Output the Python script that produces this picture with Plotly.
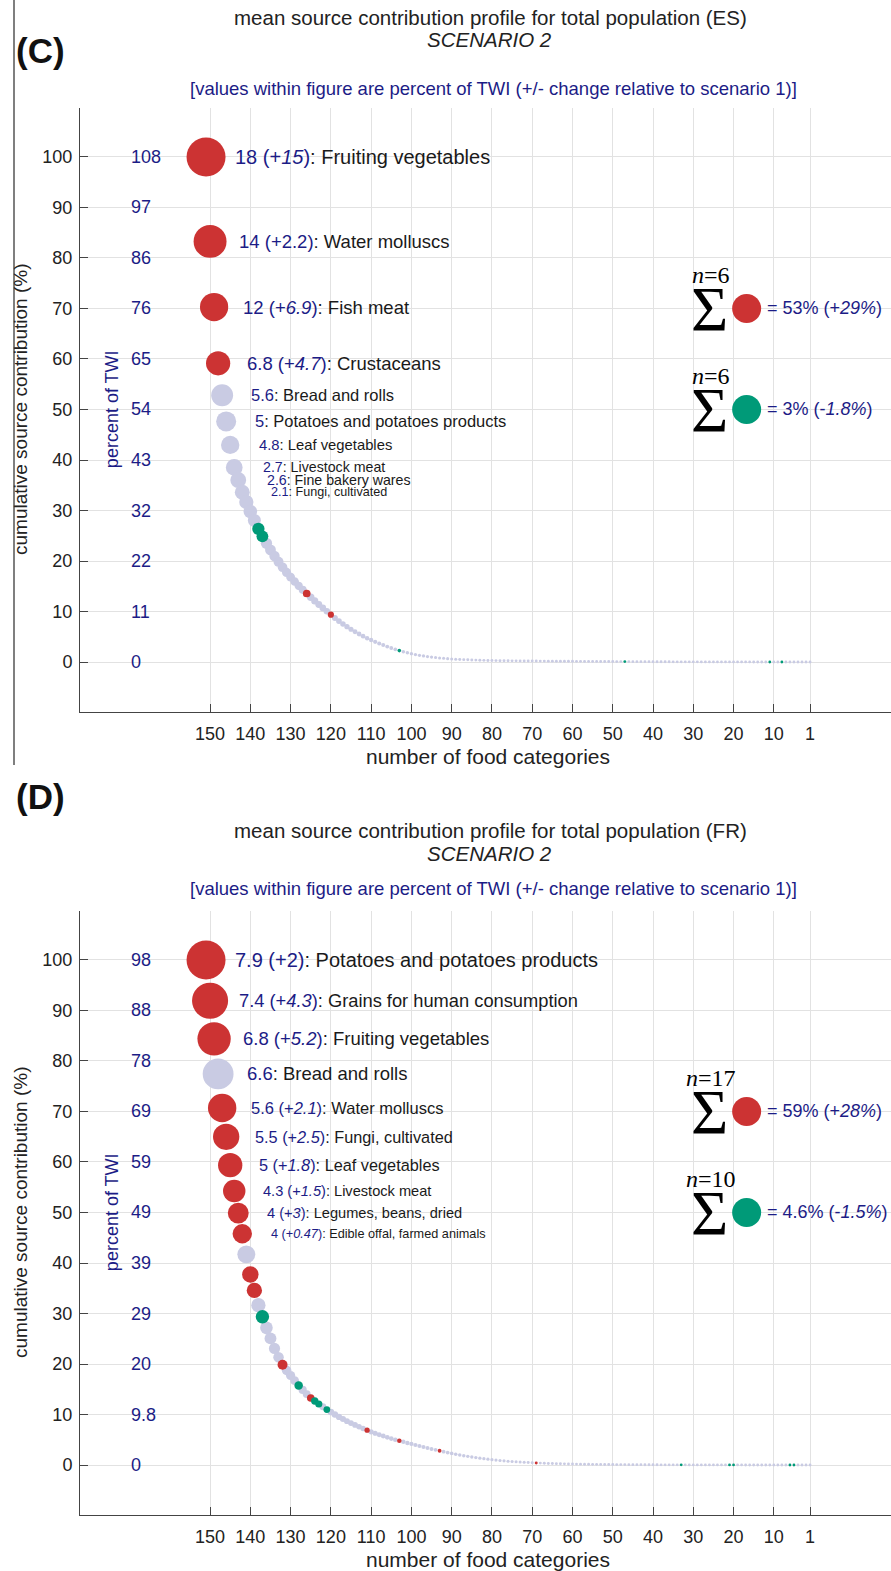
import plotly.graph_objects as go

W, H = 891, 1571

# ---------------- Panel (C): ES ----------------
es_contrib = [
    18, 14, 12, 6.8, 5.6, 5, 4.8, 2.7, 2.6, 2.1,
    2.0, 1.9, 1.8,
    1.6, 1.5, 1.4, 1.3, 1.25, 1.15, 1.1, 1.0, 0.95, 0.9, 0.85, 0.8,
    0.8, 0.78, 0.76, 0.74, 0.72, 0.71,
    0.70, 0.66, 0.62, 0.58, 0.55, 0.52, 0.49, 0.46, 0.43, 0.40, 0.38, 0.36, 0.34, 0.32, 0.30, 0.28, 0.27,
    0.25, 0.22, 0.20, 0.18, 0.16, 0.14, 0.12, 0.11, 0.10, 0.09, 0.08, 0.07, 0.06, 0.055, 0.05,
    0.045, 0.04, 0.035, 0.03, 0.027, 0.024, 0.021, 0.018, 0.016, 0.014, 0.012, 0.01, 0.009, 0.008,
    0.008, 0.0078, 0.0076, 0.0074, 0.0072, 0.007, 0.0068, 0.0066, 0.0064, 0.0062,
    0.006, 0.0058, 0.0056, 0.0055, 0.0054, 0.0053, 0.0052, 0.0051, 0.005, 0.0049,
    0.0048, 0.0047, 0.0046, 0.0045, 0.0044, 0.0043, 0.0042, 0.0041, 0.004, 0.0039,
    0.0038, 0.0037, 0.0036, 0.0035, 0.0034, 0.0033, 0.0032, 0.0031, 0.003, 0.0029,
    0.0028, 0.0027, 0.0026, 0.0025, 0.0024, 0.0023, 0.0022, 0.0021, 0.002, 0.0019,
    0.0018, 0.0017, 0.0016, 0.0015, 0.0014, 0.0013, 0.0012, 0.0011, 0.001, 0.0009,
    0.0008, 0.0007, 0.0006, 0.0005, 0.0004, 0.0003, 0.0002, 0.0002, 0.0001, 0.0001,
    0.0001, 0.0001, 0.0001, 0.0001,
]
es_red_ranks = [1, 2, 3, 4, 26, 32]
es_green_ranks = [14, 15, 49, 105, 141, 144]
es_label_values = ["18", "14", "12", "6.8", "5.6", "5", "4.8", "2.7", "2.6", "2.1"]
es_label_changes = ["+15", "+2.2", "+6.9", "+4.7", None, None, None, None, None, None]
es_label_names = ["Fruiting vegetables", "Water molluscs", "Fish meat", "Crustaceans",
                  "Bread and rolls", "Potatoes and potatoes products", "Leaf vegetables",
                  "Livestock meat", "Fine bakery wares", "Fungi, cultivated"]
es_twi_ticks = ["108", "97", "86", "76", "65", "54", "43", "32", "22", "11", "0"]
es_sum_red = ["6", "53%", "+29%"]
es_sum_green = ["6", "3%", "-1.8%"]

# ---------------- Panel (D): FR ----------------
fr_contrib = [
    7.9, 7.4, 6.8, 6.6, 5.6, 5.5, 5.0, 4.3, 4.0, 4.0,
    3.9, 3.1, 2.85, 2.25, 2.15, 2.05, 1.95, 1.7, 1.45,
    1.1, 1.0, 1.0, 0.95,
    0.85, 0.8, 0.75,
    0.6, 0.58, 0.55, 0.52,
    0.5, 0.48, 0.45, 0.42, 0.4, 0.38, 0.36, 0.35, 0.34, 0.33,
    0.31, 0.29, 0.27, 0.26, 0.25, 0.24, 0.22, 0.21,
    0.21, 0.21, 0.2, 0.2, 0.19, 0.19, 0.19, 0.19, 0.18, 0.18,
    0.18, 0.17, 0.16, 0.15, 0.15, 0.14, 0.13, 0.12, 0.12, 0.11, 0.10, 0.10,
    0.09, 0.08, 0.08, 0.07, 0.07, 0.06, 0.06, 0.05, 0.05, 0.04, 0.04, 0.04,
    0.035, 0.03, 0.028, 0.025, 0.022, 0.02, 0.018, 0.016, 0.015, 0.014,
    0.013, 0.012, 0.011, 0.01, 0.009, 0.008, 0.008, 0.007, 0.007, 0.006,
    0.006, 0.005, 0.005, 0.005, 0.004, 0.004, 0.004, 0.003, 0.003, 0.003,
    0.003, 0.0028, 0.0026, 0.0025, 0.0024, 0.0023, 0.0022, 0.0021, 0.002, 0.0019,
    0.0018, 0.0017, 0.0016, 0.0015, 0.0014, 0.0013, 0.0012, 0.0011, 0.001, 0.0009,
    0.0008, 0.0007, 0.0007, 0.0006, 0.0006, 0.0005, 0.0005, 0.0004, 0.0004, 0.0003,
    0.0003, 0.0002, 0.0002, 0.0002, 0.0001, 0.0001, 0.0001, 0.0001, 0.0001,
]
fr_red_ranks = [1, 2, 3, 5, 6, 7, 8, 9, 10, 12, 13, 20, 27, 41, 49, 59, 83]
fr_green_ranks = [15, 24, 28, 29, 31, 119, 131, 132, 146, 147]
fr_label_values = ["7.9", "7.4", "6.8", "6.6", "5.6", "5.5", "5", "4.3", "4", "4"]
fr_label_changes = ["+2", "+4.3", "+5.2", None, "+2.1", "+2.5", "+1.8", "+1.5", "+3", "+0.47"]
fr_label_names = ["Potatoes and potatoes products", "Grains for human consumption",
                  "Fruiting vegetables", "Bread and rolls", "Water molluscs",
                  "Fungi, cultivated", "Leaf vegetables", "Livestock meat",
                  "Legumes, beans, dried", "Edible offal, farmed animals"]
fr_twi_ticks = ["98", "88", "78", "69", "59", "49", "39", "29", "20", "9.8", "0"]
fr_sum_red = ["17", "59%", "+28%"]
fr_sum_green = ["10", "4.6%", "-1.5%"]

x_tickvals = [150, 140, 130, 120, 110, 100, 90, 80, 70, 60, 50, 40, 30, 20, 10, 1]
y_tickvals = [100, 90, 80, 70, 60, 50, 40, 30, 20, 10, 0]

# ---------------- styles ----------------
RED = "#CC3333"
GREEN = "#009A78"
LAV = "#C9CBE3"
NAVY = "#1C1C86"
DARK = "#1a1a1a"
FONT = "Liberation Sans, Arial, sans-serif"
SERIF = "Liberation Serif, Times New Roman, serif"
es_italic = [True, False, True, True, False, False, False, False, False, False]
fr_italic = [False, True, True, False, True, True, True, True, True, True]
es_label_fs = [20, 18.5, 18.5, 18.5, 16.5, 16.5, 14.8, 14.2, 14.2, 12.6]
fr_label_fs = [20, 18.3, 18.5, 18.5, 16.5, 16.3, 16.3, 14.6, 14.6, 12.7]

fig = go.Figure()


def xv(px):
    return 150 - (px - 210) / 4.03


def py(px):
    return 1 - px / H


annotations = []
shapes = []


def build_panel(idx, contrib, red_r, green_r, vals, changes, italic, label_fs, names, twi,
                sred, sgreen, dy, tag, country, title_y, scen_y, sub_y, tag_y):
    xa = "x" if idx == 1 else "x2"
    ya = "y" if idx == 1 else "y2"
    n = len(contrib)
    total = sum(contrib)
    ys = []
    rem = total
    for c in contrib:
        ys.append(100 * rem / total)
        rem -= c
    xs = [n + 1 - r for r in range(1, n + 1)]
    sizes = [2.8 + 0.362 * y for y in ys]
    cats = []
    for r in range(1, n + 1):
        cats.append("red" if r in red_r else ("green" if r in green_r else "lav"))
    for cat, col in [("lav", LAV), ("red", RED), ("green", GREEN)]:
        ii = [i for i in range(n) if cats[i] == cat]
        fig.add_trace(go.Scatter(
            x=[xs[i] for i in ii], y=[ys[i] for i in ii], mode="markers",
            marker=dict(size=[sizes[i] for i in ii], color=col, line=dict(width=0), opacity=1),
            xaxis=xa, yaxis=ya, showlegend=False, hoverinfo="skip"))
    # sum markers
    fig.add_trace(go.Scatter(x=[xv(747), xv(747)], y=[70, 50], mode="markers",
                             marker=dict(size=29, color=[RED, GREEN], line=dict(width=0)),
                             xaxis=xa, yaxis=ya, showlegend=False, hoverinfo="skip"))
    # labels
    for k in range(len(vals)):
        s = f"<span style='color:{NAVY}'>{vals[k]}</span>"
        ch = changes[k]
        if ch:
            body = f"<i>{ch[1:]}</i>" if italic[k] else ch[1:]
            s += f"<span style='color:{NAVY}'> ({ch[0]}{body})</span>"
        s += f"<span style='color:{DARK}'>: {names[k]}</span>"
        annotations.append(dict(x=xs[k], y=ys[k], xref=xa, yref=ya, text=s, showarrow=False,
                                xanchor="left", yanchor="middle", xshift=27,
                                font=dict(family=FONT, size=label_fs[k], color=DARK)))
    # TWI tick labels
    for t, yv in zip(twi, y_tickvals):
        annotations.append(dict(x=xv(129), y=yv, xref=xa, yref=ya, text=t, showarrow=False,
                                xanchor="left", yanchor="middle",
                                font=dict(family=FONT, size=18, color=NAVY)))
    annotations.append(dict(x=xv(112.5), y=50, xref=xa, yref=ya, text="percent of TWI",
                            showarrow=False, textangle=-90, xanchor="center", yanchor="middle",
                            font=dict(family=FONT, size=18, color=NAVY)))
    # sums
    for (nn, pct, chg), yv in [(sred, 70), (sgreen, 50)]:
        annotations.append(dict(x=xv(710), y=yv, xref=xa, yref=ya, text="\u03a3", showarrow=False,
                                xanchor="center", yanchor="middle", yshift=-1,
                                font=dict(family=SERIF, size=64, color="#000")))
        annotations.append(dict(x=xv(711), y=yv, xref=xa, yref=ya, text=f"<i>n</i>={nn}",
                                showarrow=False, xanchor="center", yanchor="middle", yshift=33,
                                font=dict(family=SERIF, size=24, color="#000")))
        annotations.append(dict(x=xv(765), y=yv, xref=xa, yref=ya,
                                text=f"= {pct} ({chg[0]}<i>{chg[1:]}</i>)", showarrow=False,
                                xanchor="left", yanchor="middle",
                                font=dict(family=FONT, size=18, color=NAVY)))
    # titles
    annotations.append(dict(x=490 / W, y=py(title_y), xref="paper", yref="paper",
                            text=f"mean source contribution profile for total population ({country})",
                            showarrow=False, xanchor="center", yanchor="middle",
                            font=dict(family=FONT, size=20.5, color="#222")))
    annotations.append(dict(x=489 / W, y=py(scen_y), xref="paper", yref="paper",
                            text="<i>SCENARIO 2</i>", showarrow=False, xanchor="center", yanchor="middle",
                            font=dict(family=FONT, size=20.5, color="#222")))
    annotations.append(dict(x=493 / W, y=py(sub_y), xref="paper", yref="paper",
                            text="[values within figure are percent of TWI (+/- change relative to scenario 1)]",
                            showarrow=False, xanchor="center", yanchor="middle",
                            font=dict(family=FONT, size=18.5, color=NAVY)))
    annotations.append(dict(x=14 / W, y=py(tag_y), xref="paper", yref="paper", text=f"<b>{tag}</b>",
                            showarrow=False, xanchor="left", yanchor="middle",
                            font=dict(family=FONT, size=35, color="#111")))
    annotations.append(dict(x=20 / W, y=py(410 + dy), xref="paper", yref="paper",
                            text="cumulative source contribution (%)", showarrow=False, textangle=-90,
                            xanchor="center", yanchor="middle",
                            font=dict(family=FONT, size=19, color="#222")))
    annotations.append(dict(x=488 / W, y=py(756 + dy), xref="paper", yref="paper",
                            text="number of food categories", showarrow=False,
                            xanchor="center", yanchor="middle",
                            font=dict(family=FONT, size=21, color="#222")))


build_panel(1, es_contrib, es_red_ranks, es_green_ranks, es_label_values, es_label_changes,
            es_italic, es_label_fs, es_label_names, es_twi_ticks, es_sum_red, es_sum_green,
            0, "(C)", "ES", 17, 40, 88, 50)
build_panel(2, fr_contrib, fr_red_ranks, fr_green_ranks, fr_label_values, fr_label_changes,
            fr_italic, fr_label_fs, fr_label_names, fr_twi_ticks, fr_sum_red, fr_sum_green,
            803, "(D)", "FR", 830, 853, 888, 796)

shapes.append(dict(type="line", xref="paper", yref="paper", x0=14 / W, x1=14 / W,
                   y0=1, y1=py(765), line=dict(color="#555", width=1.5)))


def xaxis_cfg(anchor):
    return dict(domain=[80 / W, 1], range=[182.3, -19.1], tickvals=x_tickvals,
                ticktext=[str(v) for v in x_tickvals], ticks="inside", ticklen=8,
                tickcolor="#444", showline=True, linecolor="#444", linewidth=1,
                showgrid=True, gridcolor="#e2e2e2", gridwidth=1, zeroline=False,
                tickfont=dict(family=FONT, size=18, color="#222"), anchor=anchor,
                automargin=False, ticklabelstandoff=5)


def yaxis_cfg(top, bottom, anchor):
    return dict(domain=[py(bottom), py(top)], range=[-9.9, 109.7], tickvals=y_tickvals,
                ticks="inside", ticklen=8, tickcolor="#444", showline=True, linecolor="#444",
                linewidth=1, showgrid=True, gridcolor="#e2e2e2", gridwidth=1, zeroline=False,
                tickfont=dict(family=FONT, size=18, color="#222"), anchor=anchor,
                automargin=False, ticklabelstandoff=3)


fig.update_layout(
    width=W, height=H, margin=dict(l=0, r=0, t=0, b=0),
    paper_bgcolor="white", plot_bgcolor="white",
    xaxis=xaxis_cfg("y"), yaxis=yaxis_cfg(108, 712, "x"),
    xaxis2=xaxis_cfg("y2"), yaxis2=yaxis_cfg(911, 1515, "x2"),
    annotations=annotations, shapes=shapes, showlegend=False,
)

fig.write_html("out.html")
